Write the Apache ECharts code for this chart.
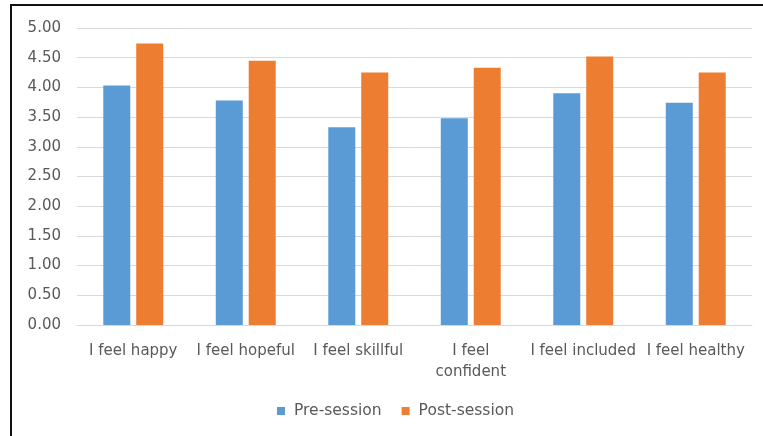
<!DOCTYPE html>
<html>
<head>
<meta charset="utf-8">
<script src="https://cdn.jsdelivr.net/npm/echarts@6/dist/echarts.min.js"></script>
<style>
  html, body { margin: 0; padding: 0; background: #fff; }
  #chart { width: 763px; height: 436px; }
</style>
</head>
<body>
<div id="chart"></div>
<script>
// Survey statements and mean scores before / after the session
const categories = ['I feel happy', 'I feel hopeful', 'I feel skillful', 'I feel confident', 'I feel included', 'I feel healthy'];
const tickLabels = ['I feel happy', 'I feel hopeful', 'I feel skillful', 'I feel\nconfident', 'I feel included', 'I feel healthy'];
const preSession = [4.03, 3.78, 3.33, 3.48, 3.90, 3.74];
const postSession = [4.74, 4.45, 4.25, 4.33, 4.52, 4.25];
const seriesNames = ['Pre-session', 'Post-session'];

const FONT = 'DejaVu Sans';
const TEXT = '#595959';

const chart = echarts.init(document.getElementById('chart'), null, { renderer: 'canvas' });
chart.setOption({
  animation: false,
  backgroundColor: '#ffffff',
  textStyle: { fontFamily: FONT },
  color: ['#5B9BD5', '#ED7D31'],
  graphic: [
    { type: 'line', shape: { x1: 10, y1: 5, x2: 763, y2: 5 }, style: { stroke: '#111', lineWidth: 2 } },
    { type: 'line', shape: { x1: 11, y1: 4, x2: 11, y2: 436 }, style: { stroke: '#111', lineWidth: 2 } }
  ],
  grid: { left: 77, right: 11, top: 28, bottom: 111, containLabel: false },
  legend: {
    data: seriesNames,
    top: 398,
    left: 272,
    itemWidth: 8,
    itemHeight: 8,
    itemGap: 20,
    icon: 'rect',
    textStyle: { color: TEXT, fontSize: 15.5, fontFamily: FONT, padding: [0, 0, 0, 4] }
  },
  xAxis: {
    type: 'category',
    data: categories,
    axisLine: { lineStyle: { color: '#D9D9D9', width: 1 } },
    axisTick: { show: false },
    axisLabel: {
      interval: 0,
      margin: 16,
      color: TEXT,
      fontSize: 15,
      lineHeight: 21,
      fontFamily: FONT,
      formatter: (v, i) => tickLabels[i]
    }
  },
  yAxis: {
    type: 'value',
    min: 0,
    max: 5,
    interval: 0.5,
    axisLine: { show: false },
    axisTick: { show: false },
    splitLine: { lineStyle: { color: '#D9D9D9', width: 1 } },
    axisLabel: {
      margin: 16,
      color: TEXT,
      fontSize: 15,
      fontFamily: FONT,
      formatter: v => v.toFixed(2)
    }
  },
  series: [
    { name: seriesNames[0], type: 'bar', data: preSession, barWidth: 27, barGap: '22%' },
    { name: seriesNames[1], type: 'bar', data: postSession, barWidth: 27, barGap: '22%' }
  ]
});
</script>
</body>
</html>
